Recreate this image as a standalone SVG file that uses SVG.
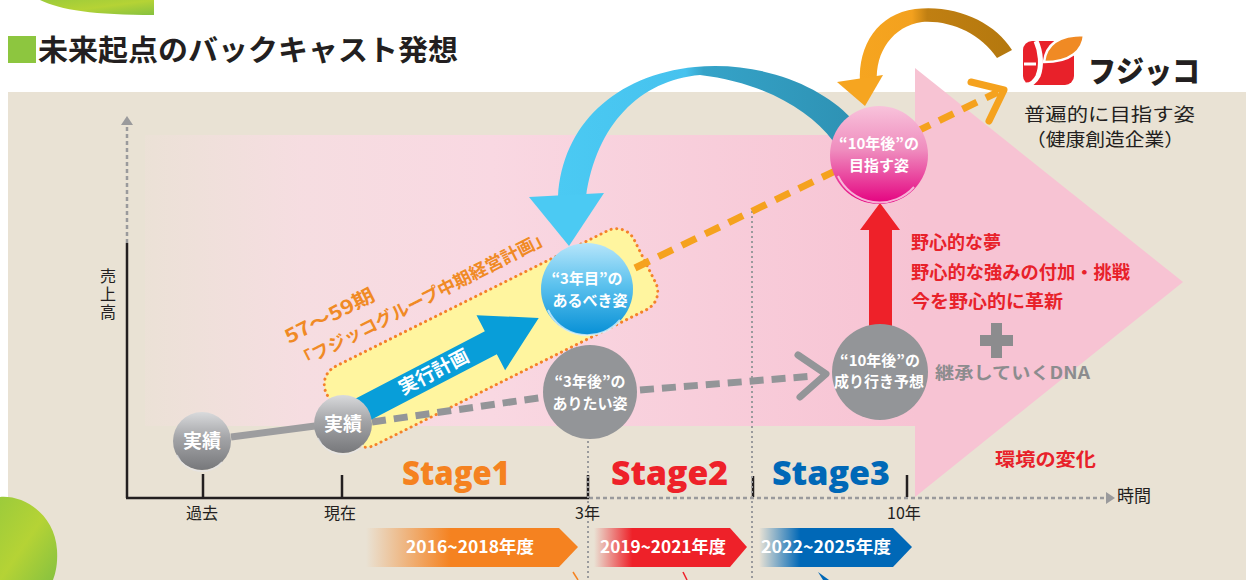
<svg xmlns="http://www.w3.org/2000/svg" width="1246" height="580" viewBox="0 0 1246 580">
  <defs>
    <style>
      .jp { font-family: "Noto Sans CJK JP", "Noto Sans", sans-serif; }
      .lat { font-family: "Open Sans", "Liberation Sans", sans-serif; }
      .axis { stroke: #231F20; stroke-width: 2.5; fill: none; }
      .dotv { stroke: #9A9A9C; stroke-width: 2; stroke-dasharray: 2 3; fill: none; }
      .circ-txt { font-size: 15px; font-weight: bold; fill: #FFFFFF; text-anchor: middle; }
      .red-txt { font-size: 18px; font-weight: bold; fill: #E8212A; }
      .band-txt { font-size: 16.5px; font-weight: bold; fill: #FFFFFF; text-anchor: middle; }
      .stage { font-size: 33px; font-weight: 800; }
      .tick-lbl { font-size: 16px; fill: #231F20; }
    </style>
    <linearGradient id="leafG" x1="0" y1="0" x2="1" y2="1">
      <stop offset="0" stop-color="#9CCB3B"/>
      <stop offset="0.5" stop-color="#B5D335"/>
      <stop offset="1" stop-color="#86C140"/>
    </linearGradient>
    <linearGradient id="pinkBody" x1="145" y1="0" x2="916" y2="0" gradientUnits="userSpaceOnUse">
      <stop offset="0" stop-color="#F9DDE4" stop-opacity="0.15"/>
      <stop offset="0.2" stop-color="#F9DCE4" stop-opacity="0.8"/>
      <stop offset="0.45" stop-color="#F9D8E2"/>
      <stop offset="1" stop-color="#F7C3D3"/>
    </linearGradient>
    <linearGradient id="blueArc" x1="555" y1="0" x2="852" y2="0" gradientUnits="userSpaceOnUse">
      <stop offset="0" stop-color="#4BCAF3"/>
      <stop offset="0.44" stop-color="#46C2EE"/>
      <stop offset="0.5" stop-color="#35A3C8"/>
      <stop offset="1" stop-color="#2E92B4"/>
    </linearGradient>
    <linearGradient id="orangeArc" x1="858" y1="0" x2="1012" y2="0" gradientUnits="userSpaceOnUse">
      <stop offset="0" stop-color="#F6A520"/>
      <stop offset="0.35" stop-color="#F3A11E"/>
      <stop offset="0.45" stop-color="#C07F12"/>
      <stop offset="1" stop-color="#B4780E"/>
    </linearGradient>
    <linearGradient id="greySphere" x1="0" y1="0" x2="0" y2="1">
      <stop offset="0" stop-color="#D9DADC"/>
      <stop offset="0.45" stop-color="#A3A4A7"/>
      <stop offset="1" stop-color="#77787B"/>
    </linearGradient>
    <linearGradient id="blueSphere" x1="0" y1="0" x2="0" y2="1">
      <stop offset="0" stop-color="#B6E5FA"/>
      <stop offset="0.45" stop-color="#5DC2EE"/>
      <stop offset="1" stop-color="#0790D6"/>
    </linearGradient>
    <linearGradient id="pinkSphere" x1="0" y1="0" x2="0" y2="1">
      <stop offset="0" stop-color="#F8C3DB"/>
      <stop offset="0.45" stop-color="#EF8CBE"/>
      <stop offset="1" stop-color="#E4007F"/>
    </linearGradient>
    <linearGradient id="bnOrange" x1="366" y1="0" x2="578" y2="0" gradientUnits="userSpaceOnUse">
      <stop offset="0" stop-color="#F58220" stop-opacity="0"/>
      <stop offset="0.4" stop-color="#F58220"/>
      <stop offset="1" stop-color="#F58220"/>
    </linearGradient>
    <linearGradient id="bnRed" x1="594" y1="0" x2="747" y2="0" gradientUnits="userSpaceOnUse">
      <stop offset="0" stop-color="#EE2129" stop-opacity="0"/>
      <stop offset="0.25" stop-color="#EE2129"/>
      <stop offset="1" stop-color="#EE2129"/>
    </linearGradient>
    <linearGradient id="bnBlue" x1="759" y1="0" x2="912" y2="0" gradientUnits="userSpaceOnUse">
      <stop offset="0" stop-color="#0068B7" stop-opacity="0"/>
      <stop offset="0.27" stop-color="#0068B7"/>
      <stop offset="1" stop-color="#0068B7"/>
    </linearGradient>
  </defs>

  <!-- page and panel -->
  <rect x="0" y="0" width="1246" height="580" fill="#FFFFFF"/>
  <rect x="8" y="92" width="1238" height="488" fill="#E9E2D4"/>

  <!-- decorative leaves -->
  <path d="M40,0 C60,10 95,15 154,15 L154,0 Z" fill="url(#leafG)"/>
  <path d="M0,497 C25,495 55,515 57,550 C58,565 55,575 53,580 L0,580 Z" fill="url(#leafG)"/>

  <!-- heading -->
  <rect x="8" y="36" width="28" height="27" fill="#8DC63F"/>
  <text class="jp" x="38" y="61" font-size="29" font-weight="bold" fill="#231F20" textLength="420" lengthAdjust="spacingAndGlyphs">未来起点のバックキャスト発想</text>

  <!-- big background arrow -->
  <g id="future-arrow">
    <rect x="145" y="135" width="772" height="291" fill="url(#pinkBody)"/>
    <polygon points="915,68 1183,282 915,497" fill="#F7C3D3"/>
  </g>

  <!-- axes -->
  <g id="axes">
    <line class="axis" x1="127" y1="243" x2="127" y2="498"/>
    <line x1="127" y1="243" x2="127" y2="126" stroke="#9A9A9C" stroke-width="2.5" stroke-dasharray="4 3"/>
    <polygon points="121,125 133,125 127,116" fill="#9A9A9C"/>
    <line class="axis" x1="126" y1="498" x2="589" y2="498"/>
    <line x1="589" y1="498" x2="1107" y2="498" stroke="#9A9A9C" stroke-width="2.5" stroke-dasharray="4 3"/>
    <polygon points="1106,492 1106,504 1115,498" fill="#9A9A9C"/>
    <line class="axis" x1="203" y1="474" x2="203" y2="498"/>
    <line class="axis" x1="342" y1="475" x2="342" y2="498"/>
    <line class="axis" x1="588" y1="475" x2="588" y2="498"/>
    <line class="axis" x1="753" y1="476" x2="753" y2="497"/>
    <line class="axis" x1="907" y1="475" x2="907" y2="497"/>
    <line class="dotv" x1="588" y1="441" x2="588" y2="580"/>
    <line class="dotv" x1="752" y1="211" x2="752" y2="580"/>
    <text class="jp" x="108" y="268" font-size="16" fill="#231F20" writing-mode="tb" letter-spacing="2">売上高</text>
    <text class="jp tick-lbl" x="202" y="519" text-anchor="middle">過去</text>
    <text class="jp tick-lbl" x="340" y="519" text-anchor="middle">現在</text>
    <text class="jp tick-lbl" x="575" y="519">3年</text>
    <text class="jp tick-lbl" x="887" y="519">10年</text>
    <text class="jp" x="1117" y="502" font-size="17" fill="#231F20">時間</text>
  </g>

  <!-- mid-term plan band -->
  <g id="plan-band">
    <rect x="-172" y="-44" width="344" height="88" rx="20" transform="translate(491,338) rotate(-26.5)" fill="#FFF59F" stroke="#F4812A" stroke-width="3" stroke-dasharray="0.1 5.5" stroke-linecap="round"/>
    <text class="jp" transform="translate(289,344) rotate(-27)" font-size="19" font-weight="bold" fill="#F08A24" textLength="98" lengthAdjust="spacingAndGlyphs">57～59期</text>
    <text class="jp" transform="translate(300,369) rotate(-27)" font-size="17.5" font-weight="bold" fill="#F08A24" textLength="283" lengthAdjust="spacingAndGlyphs">「フジッコグループ中期経営計画」</text>
  </g>

  <!-- connectors -->
  <g id="connectors">
    <line x1="231" y1="437" x2="315" y2="426" stroke="#9D9D9F" stroke-width="7"/>
    <path d="M372,422 L545,397" stroke="#939598" stroke-width="7" stroke-dasharray="14 8" fill="none"/>
    <path d="M640,390 L815,376" stroke="#939598" stroke-width="7" stroke-dasharray="14 8" fill="none"/>
    <polyline points="798,355 826,374 800,397" stroke="#939598" stroke-width="7" stroke-linecap="round" stroke-linejoin="round" fill="none"/>
    <path d="M635,268 L998,92" stroke="#F5A21E" stroke-width="7" stroke-dasharray="16 10" fill="none"/>
    <polyline points="971,82 1004,90 989,121" stroke="#F5A21E" stroke-width="7" stroke-linecap="round" stroke-linejoin="round" fill="none"/>
    <!-- execution plan arrow -->
    <g transform="translate(356,413) rotate(-27.5)">
      <polygon points="0,-13 152,-13 152,-31 206,0 152,31 152,13 0,13" fill="#089ED9"/>
      <text class="jp" x="88" y="6" font-size="19" font-weight="bold" fill="#FFFFFF" text-anchor="middle">実行計画</text>
    </g>
    <!-- backcast arc -->
    <path d="M558,197 C562,125 615,75 695,67 C760,61 820,85 851,118 L833,141 C808,108 760,82 700,75 C640,80 596,125 586,197 Z" fill="url(#blueArc)"/>
    <polygon points="529,197 604,193 569,246" fill="#4BCAF3"/>
    <!-- arc from corporate vision -->
    <path d="M860,82 C858,45 878,14 915,9 C955,4 995,22 1012,50 L997,58 C980,33 950,20 922,22 C893,26 875,52 877,82 Z" fill="url(#orangeArc)"/>
    <polygon points="837,82 883,75 865,106" fill="#F6A520"/>
    <!-- upward arrow -->
    <polygon points="869,327 869,230 860,230 880,203 900,230 892,230 892,327" fill="#EE2129"/>
  </g>

  <!-- nodes -->
  <g id="node-past">
    <circle cx="202" cy="441" r="29" fill="url(#greySphere)"/>
    <path d="M177,455 A27,27 0 0 0 222,462" stroke="#E6E6E8" stroke-width="1.5" fill="none" opacity="0.7"/>
    <text class="jp" x="202" y="448" font-size="19" font-weight="bold" fill="#FFFFFF" text-anchor="middle">実績</text>
  </g>
  <g id="node-present">
    <circle cx="343" cy="424" r="29" fill="url(#greySphere)"/>
    <path d="M318,438 A27,27 0 0 0 363,445" stroke="#E6E6E8" stroke-width="1.5" fill="none" opacity="0.7"/>
    <text class="jp" x="343" y="431" font-size="19" font-weight="bold" fill="#FFFFFF" text-anchor="middle">実績</text>
  </g>
  <g id="node-3y-ideal">
    <circle cx="587" cy="289" r="46" fill="url(#blueSphere)"/>
    <path d="M548,310 A43,43 0 0 0 620,320" stroke="#D8F1FC" stroke-width="2" fill="none" opacity="0.8"/>
    <text class="jp circ-txt" x="587" y="284">“3年目”の</text>
    <text class="jp circ-txt" x="590" y="306">あるべき姿</text>
  </g>
  <g id="node-3y-want">
    <circle cx="590" cy="392" r="47" fill="#939598"/>
    <text class="jp circ-txt" x="590" y="387">“3年後”の</text>
    <text class="jp circ-txt" x="590" y="409">ありたい姿</text>
  </g>
  <g id="node-10y-goal">
    <circle cx="879" cy="155" r="49" fill="url(#pinkSphere)"/>
    <path d="M838,176 A46,46 0 0 0 914,187" stroke="#FBD9EA" stroke-width="2" fill="none" opacity="0.8"/>
    <text class="jp circ-txt" x="879" y="149">“10年後”の</text>
    <text class="jp circ-txt" x="879" y="171">目指す姿</text>
  </g>
  <g id="node-10y-trend">
    <circle cx="880" cy="372" r="48" fill="#939598"/>
    <text class="jp circ-txt" x="880" y="366">“10年後”の</text>
    <text class="jp circ-txt" x="879" y="387">成り行き予想</text>
  </g>

  <!-- ambition notes -->
  <g id="ambition">
    <text class="jp red-txt" x="911" y="249">野心的な夢</text>
    <text class="jp red-txt" x="911" y="279" textLength="219" lengthAdjust="spacingAndGlyphs">野心的な強みの付加・挑戦</text>
    <text class="jp red-txt" x="911" y="308" textLength="152" lengthAdjust="spacingAndGlyphs">今を野心的に革新</text>
    <path d="M991,323 h11 v12 h11 v11 h-11 v12 h-11 v-12 h-11 v-11 h11 Z" fill="#8C8C8E"/>
    <text class="jp" x="935" y="379" font-size="17" font-weight="bold" fill="#8C8C8E" textLength="155" lengthAdjust="spacingAndGlyphs">継承していくDNA</text>
    <text class="jp red-txt" x="995" y="466" font-size="19" textLength="101" lengthAdjust="spacingAndGlyphs">環境の変化</text>
  </g>

  <!-- stages -->
  <g id="stages">
    <text class="lat stage" x="402" y="485" fill="#F58220" textLength="108" lengthAdjust="spacingAndGlyphs">Stage1</text>
    <text class="lat stage" x="611" y="485" fill="#EE2129" textLength="117" lengthAdjust="spacingAndGlyphs">Stage2</text>
    <text class="lat stage" x="772" y="485" fill="#0068B7" textLength="118" lengthAdjust="spacingAndGlyphs">Stage3</text>
  </g>

  <!-- fiscal-year banners -->
  <g id="banners">
    <polygon points="366,528 559,528 578,547 559,567 366,567" fill="url(#bnOrange)"/>
    <text class="jp band-txt" x="470" y="553" textLength="128" lengthAdjust="spacingAndGlyphs">2016~2018年度</text>
    <polygon points="594,528 730,528 747,547 730,567 594,567" fill="url(#bnRed)"/>
    <text class="jp band-txt" x="663" y="553" textLength="126" lengthAdjust="spacingAndGlyphs">2019~2021年度</text>
    <polygon points="759,528 893,528 912,547 893,567 759,567" fill="url(#bnBlue)"/>
    <text class="jp band-txt" x="826" y="553" textLength="130" lengthAdjust="spacingAndGlyphs">2022~2025年度</text>
    <line x1="573" y1="572" x2="578" y2="580" stroke="#F58220" stroke-width="1.5"/>
    <line x1="683" y1="572" x2="687" y2="580" stroke="#EE2129" stroke-width="1.5"/>
    <polygon points="818,572 829,580 823,580" fill="#0068B7"/>
  </g>

  <!-- corporate logo and vision -->
  <g id="logo">
    <rect x="1023" y="41" width="51" height="44" rx="9" fill="#E8212A"/>
    <path d="M1044,62 C1046,44 1060,35 1084,35 C1083,50 1071,62 1044,62 Z" fill="#F08A24" stroke="#FFFFFF" stroke-width="2.5"/>
    <path d="M1036,41 C1041,52 1042,66 1038,76 C1035,82 1030,85 1026,85" stroke="#FFFFFF" stroke-width="5" fill="none"/>
    <line x1="1024" y1="64" x2="1036" y2="64" stroke="#FFFFFF" stroke-width="3"/>
    <text class="jp" x="1088" y="82" font-size="30" font-weight="900" fill="#231F20" textLength="112" lengthAdjust="spacingAndGlyphs">フジッコ</text>
    <text class="jp" x="1024" y="121" font-size="18" fill="#231F20" textLength="171" lengthAdjust="spacingAndGlyphs">普遍的に目指す姿</text>
    <text class="jp" x="1026" y="146" font-size="18" fill="#231F20" textLength="158" lengthAdjust="spacingAndGlyphs">（健康創造企業）</text>
  </g>
</svg>
